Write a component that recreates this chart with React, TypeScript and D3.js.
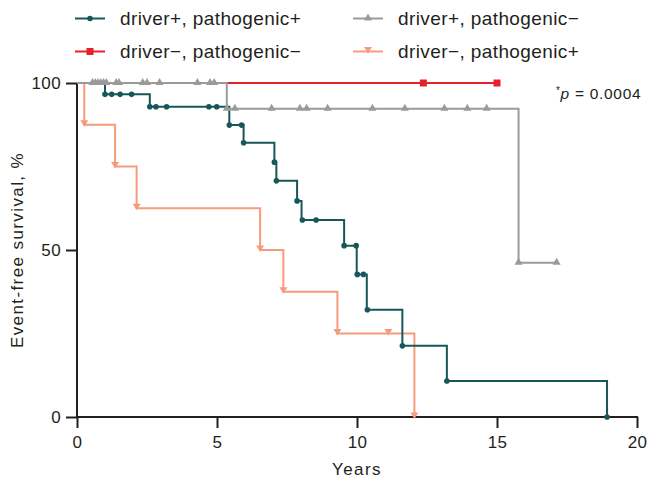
import React, { useEffect, useRef } from "react";
import * as d3 from "d3";

// ---- data ----
const seriesNames = [
  "driver+, pathogenic+",
  "driver+, pathogenic\u2212",
  "driver\u2212, pathogenic\u2212",
  "driver\u2212, pathogenic+",
];

// driver+, pathogenic+
const dpppTimes = [1.0, 2.6, 5.44, 5.95, 7.05, 7.12, 7.86, 8.02, 9.54, 9.99, 10.35, 11.62, 13.21, 18.93];
const dpppSurv = [96.6, 92.9, 87.4, 82.1, 76.3, 70.7, 64.7, 59.0, 51.3, 42.7, 32.1, 21.3, 10.8, 0];
const dpppEnd = 18.93;
const dpppMarks = [1.0, 1.24, 1.54, 1.95, 2.6, 2.82, 3.2, 4.71, 4.99, 5.44, 5.88, 5.95, 7.05, 7.12, 7.86, 8.05, 8.54, 9.54, 9.97, 10.01, 10.23, 10.37, 11.62, 13.21, 18.93];

// driver+, pathogenic-
const dpnpTimes = [5.35, 15.77];
const dpnpSurv = [92.3, 46.2];
const dpnpEnd = 17.13;
const dpnpMarks = [0.55, 0.65, 0.75, 0.85, 0.95, 1.05, 1.4, 1.5, 2.35, 2.5, 2.95, 4.3, 4.75, 4.9, 5.35, 5.64, 6.95, 7.96, 8.2, 8.95, 10.55, 11.71, 13.12, 13.94, 14.63, 15.77, 17.13];

// driver-, pathogenic-
const dnnnTimes: number[] = [];
const dnnnSurv: number[] = [];
const dnnnEnd = 15.0;
const dnnnMarks = [12.37, 15.0];

// driver-, pathogenic+
const dnppTimes = [0.26, 1.36, 2.13, 6.54, 7.37, 9.3, 12.05];
const dnppSurv = [87.5, 75, 62.5, 50, 37.5, 25, 0];
const dnppEnd = 12.05;
const dnppMarks = [0.26, 1.36, 2.13, 6.54, 7.37, 9.3, 11.12, 12.05];

const xTicks = [0, 5, 10, 15, 20];
const yTicks = [0, 50, 100];
const pText = "0.0004";

const COLORS = {
  green: "#17575a",
  gray: "#9a9a9a",
  red: "#e8202a",
  salmon: "#f69b7c",
};
const INK = "#231f20";
const FONT = "'Liberation Sans', Arial, Helvetica, sans-serif";

type Shape = "circle" | "tri-up" | "tri-down" | "square";

function markerPath(shape: Shape, x: number, y: number): string {
  if (shape === "tri-up") return `M${x - 4},${y + 2}L${x + 4},${y + 2}L${x},${y - 5}Z`;
  if (shape === "tri-down") return `M${x - 4},${y - 4.5}L${x + 4},${y - 4.5}L${x},${y + 2}Z`;
  if (shape === "square") return `M${x - 3.5},${y - 3.5}h7v7h-7Z`;
  const r = 2.8;
  return `M${x - r},${y}a${r},${r} 0 1,0 ${2 * r},0a${r},${r} 0 1,0 ${-2 * r},0Z`;
}

export default function App() {
  const ref = useRef<SVGSVGElement | null>(null);

  useEffect(() => {
    const svg = d3.select(ref.current);
    svg.selectAll("*").remove();

    const x = d3.scaleLinear().domain([0, 20]).range([77, 637]);
    const y = d3.scaleLinear().domain([0, 100]).range([417, 83]);

    const series = [
      { name: seriesNames[2], times: dnnnTimes, surv: dnnnSurv, end: dnnnEnd, marks: dnnnMarks, color: COLORS.red, shape: "square" as Shape },
      { name: seriesNames[3], times: dnppTimes, surv: dnppSurv, end: dnppEnd, marks: dnppMarks, color: COLORS.salmon, shape: "tri-down" as Shape },
      { name: seriesNames[0], times: dpppTimes, surv: dpppSurv, end: dpppEnd, marks: dpppMarks, color: COLORS.green, shape: "circle" as Shape },
      { name: seriesNames[1], times: dpnpTimes, surv: dpnpSurv, end: dpnpEnd, marks: dpnpMarks, color: COLORS.gray, shape: "tri-up" as Shape },
    ];

    // axes
    const gx = svg.append("g").attr("transform", `translate(0,${y(0)})`)
      .call(d3.axisBottom(x).tickValues(xTicks).tickSize(11).tickSizeOuter(0).tickPadding(8));
    const gy = svg.append("g").attr("transform", `translate(${x(0)},0)`)
      .call(d3.axisLeft(y).tickValues(yTicks).tickSize(11).tickSizeOuter(0).tickPadding(5));
    [gx, gy].forEach((g) => {
      g.select(".domain").attr("stroke", INK).attr("stroke-width", 2);
      g.selectAll(".tick line").attr("stroke", INK).attr("stroke-width", 2);
      g.selectAll(".tick text").attr("fill", INK).attr("font-family", FONT).attr("font-size", 17).attr("letter-spacing", 0.4);
    });
    gx.select(".domain").attr("d", `M${x(0) - 1},0H${x(20) + 1}`);
    gy.select(".domain").attr("d", `M0,${y(100)}V${y(0) + 1}`);

    // curves
    const line = d3.line<[number, number]>().x((d) => x(d[0])).y((d) => y(d[1])).curve(d3.curveStepAfter);
    const surv = (s: typeof series[number], t: number) => {
      let v = 100;
      s.times.forEach((ti, i) => { if (ti <= t) v = s.surv[i]; });
      return v;
    };
    series.forEach((s) => {
      const pts: [number, number][] = [[0, 100]];
      s.times.forEach((t, i) => pts.push([t, s.surv[i]]));
      pts.push([s.end, s.surv.length ? s.surv[s.surv.length - 1] : 100]);
      svg.append("path").attr("d", line(pts) || "").attr("fill", "none")
        .attr("stroke", s.color).attr("stroke-width", 2);
    });
    series.forEach((s) => {
      svg.append("g").selectAll("path").data(s.marks).join("path")
        .attr("d", (t) => markerPath(s.shape, x(t), y(surv(s, t))))
        .attr("fill", s.color);
    });

    // legend
    const legend = [
      { s: series[2], lx: 75, ly: 18.5 },
      { s: series[3], lx: 353, ly: 18.5 },
      { s: series[0], lx: 75, ly: 51.5 },
      { s: series[1], lx: 353, ly: 51.5 },
    ];
    legend.forEach(({ s, lx, ly }) => {
      svg.append("line").attr("x1", lx).attr("x2", lx + 30).attr("y1", ly).attr("y2", ly)
        .attr("stroke", s.color).attr("stroke-width", 2);
      svg.append("path").attr("d", markerPath(s.shape, lx + 15, ly)).attr("fill", s.color);
      svg.append("text").attr("x", lx + 45).attr("y", ly).attr("dy", "0.35em")
        .attr("font-family", FONT).attr("font-size", 19).attr("letter-spacing", 0.4)
        .attr("fill", INK).text(s.name);
    });

    // axis titles
    svg.append("text").attr("x", x(10)).attr("y", 475).attr("text-anchor", "middle")
      .attr("font-family", FONT).attr("font-size", 17).attr("letter-spacing", 1.4)
      .attr("fill", INK).text("Years");
    svg.append("text").attr("transform", `translate(23,250) rotate(-90)`).attr("text-anchor", "middle")
      .attr("font-family", FONT).attr("font-size", 17).attr("letter-spacing", 1.4)
      .attr("fill", INK).text("Event-free survival, %");

    // p value
    const pt = svg.append("text").attr("x", 556).attr("y", 99)
      .attr("font-family", FONT).attr("font-size", 15.5).attr("fill", INK).attr("letter-spacing", 0.7);
    pt.append("tspan").attr("font-size", 10).attr("dy", -5).text("*");
    pt.append("tspan").attr("font-style", "italic").attr("dy", 5).text("p");
    pt.append("tspan").text(` = ${pText}`);
  }, []);

  return (
    <svg ref={ref} width={649} height={480}
      style={{ position: "absolute", left: 0, top: 0, background: "#fff" }} />
  );
}
